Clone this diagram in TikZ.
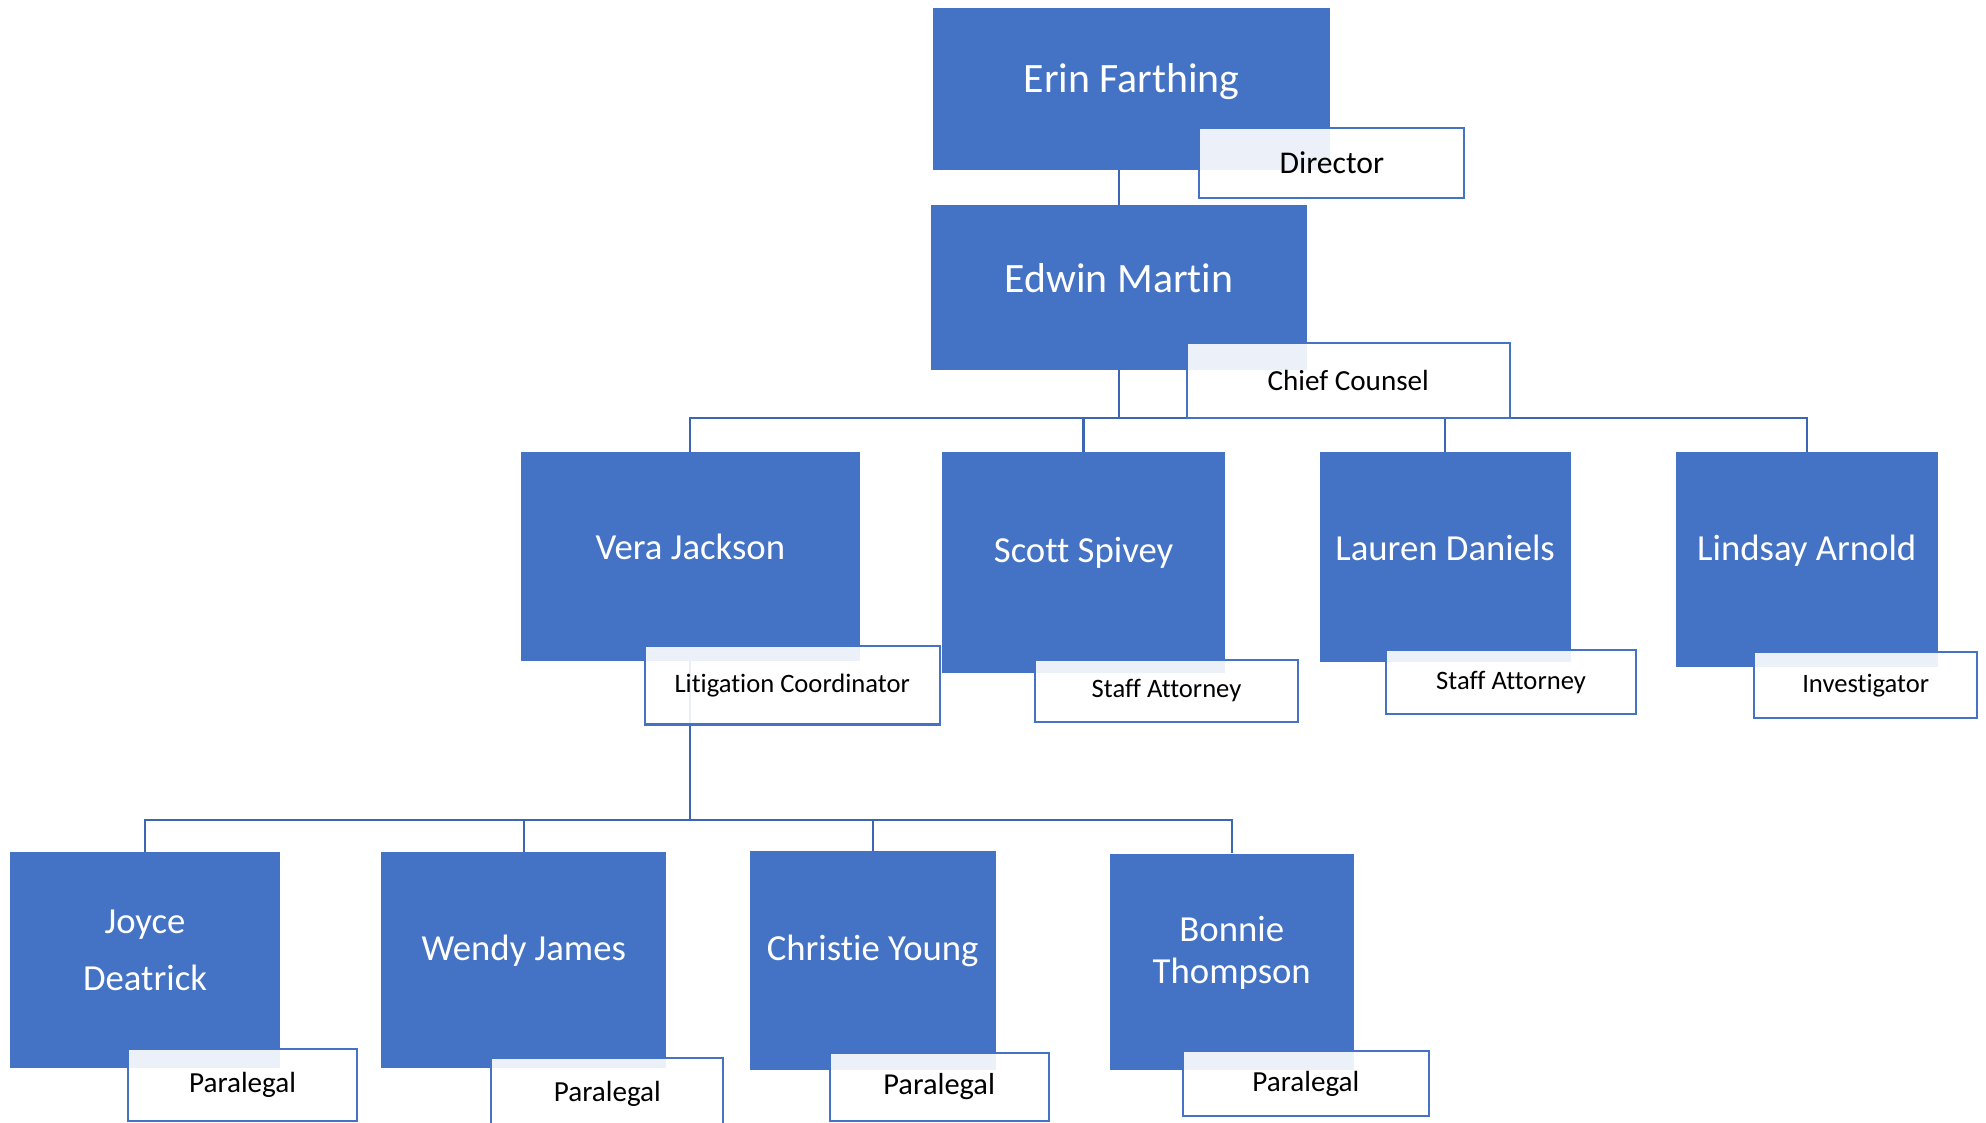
\documentclass[tikz,border=0pt]{standalone}
\usepackage{fontspec}
\setmainfont{Carlito}[RawFeature={-liga;-clig}]
\usepackage{tikz}
\usetikzlibrary{positioning}
\definecolor{orgblue}{HTML}{4472C4}
\definecolor{linkblue}{HTML}{3C65B4}

\begin{document}
\begin{tikzpicture}[x=1pt, y=-1pt,
    person/.style={fill=orgblue, inner sep=0pt},
    who/.style={text=white, align=center, inner sep=0pt, yshift=7.5pt, font=\fontsize{29}{34}\selectfont},
    role/.style={draw=orgblue, line width=1.6pt, fill=white, fill opacity=0.9, text opacity=1, inner sep=0pt, font=\fontsize{23}{26}\selectfont},
    link/.style={draw=linkblue, line width=1.8pt}]
    \useasboundingbox (0,0) rectangle (1568,886);
    % people
    \node[person, minimum width=313pt, minimum height=128pt, label={[who, yshift=-2pt, font=\fontsize{33}{38}\selectfont]center:Erin Farthing}] (EF) at (893.5,70) {};
    \node[person, minimum width=297pt, minimum height=130pt, label={[who, font=\fontsize{33}{38}\selectfont]center:Edwin Martin}] (EM) at (883.5,227) {};
    \node[person, minimum width=268pt, minimum height=165pt, label={[who]center:Vera Jackson}]   (VJ) at (545,439.5) {};
    \node[person, minimum width=223pt, minimum height=174pt, label={[who]center:Scott Spivey}]   (SS) at (855.5,444) {};
    \node[person, minimum width=198pt, minimum height=166pt, label={[who]center:Lauren Daniels}] (LD) at (1141,440) {};
    \node[person, minimum width=207pt, minimum height=170pt, label={[who]center:Lindsay Arnold}] (LA) at (1426.5,442) {};
    \node[person, minimum width=213pt, minimum height=170pt, label={[who, font=\fontsize{29}{45}\selectfont]center:Joyce\\Deatrick}] (JD) at (114.5,758) {};
    \node[person, minimum width=225pt, minimum height=170pt, label={[who]center:Wendy James}]    (WJ) at (413.5,758) {};
    \node[person, minimum width=194pt, minimum height=173pt, label={[who]center:Christie Young}] (CY) at (689,758.5) {};
    \node[person, minimum width=193pt, minimum height=171pt, label={[who, font=\fontsize{29}{33}\selectfont]center:Bonnie\\Thompson}] (BT) at (972.5,759.5) {};

    % reporting lines
    \draw[link] (EM.north) -- (EM.north |- EF.south);
    \draw[link] (EM.south) -- ++(0,38) coordinate (b1);
    \draw[link] (VJ.north) |- (b1 -| LA.north) -- (LA.north);
    \foreach \p in {SS,LD}
        \draw[link] (\p.north) -- (b1 -| \p.north);
    \draw[link] (VJ.south) -- ++(0,125) coordinate (b2);
    \draw[link] (JD.north) |- (b2 -| BT.north) -- (BT.north);
    \foreach \p in {WJ,CY}
        \draw[link] (\p.north) -- (b2 -| \p.north);

    % titles
    \node[role, minimum width=209pt, minimum height=55pt, font=\fontsize{25}{28}\selectfont] (EFt) at (1051.5,128.5) {Director};
    \node[role, minimum width=255pt, minimum height=59pt] (EMt) at (1064.5,300.5) {Chief Counsel};
    \node[role, minimum width=233pt, minimum height=62pt, font=\fontsize{21}{24}\selectfont] (VJt) at (625.5,541) {Litigation Coordinator};
    \node[role, minimum width=208pt, minimum height=49pt, font=\fontsize{21}{24}\selectfont] (SSt) at (921,545.5) {Staff Attorney};
    \node[role, minimum width=198pt, minimum height=51pt, font=\fontsize{21}{24}\selectfont] (LDt) at (1193,538.5) {Staff Attorney};
    \node[role, minimum width=176pt, minimum height=52pt, font=\fontsize{21}{24}\selectfont] (LAt) at (1473,541) {Investigator};
    \node[role, minimum width=181pt, minimum height=57pt] (JDt) at (191.5,856.5) {Paralegal};
    \node[role, minimum width=183pt, minimum height=57pt] (WJt) at (479.5,863.5) {Paralegal};
    \node[role, minimum width=173pt, minimum height=54pt, font=\fontsize{24}{27}\selectfont] (CYt) at (741.5,858) {Paralegal};
    \node[role, minimum width=194pt, minimum height=51pt] (BTt) at (1031,855.5) {Paralegal};
\end{tikzpicture}
\end{document}
